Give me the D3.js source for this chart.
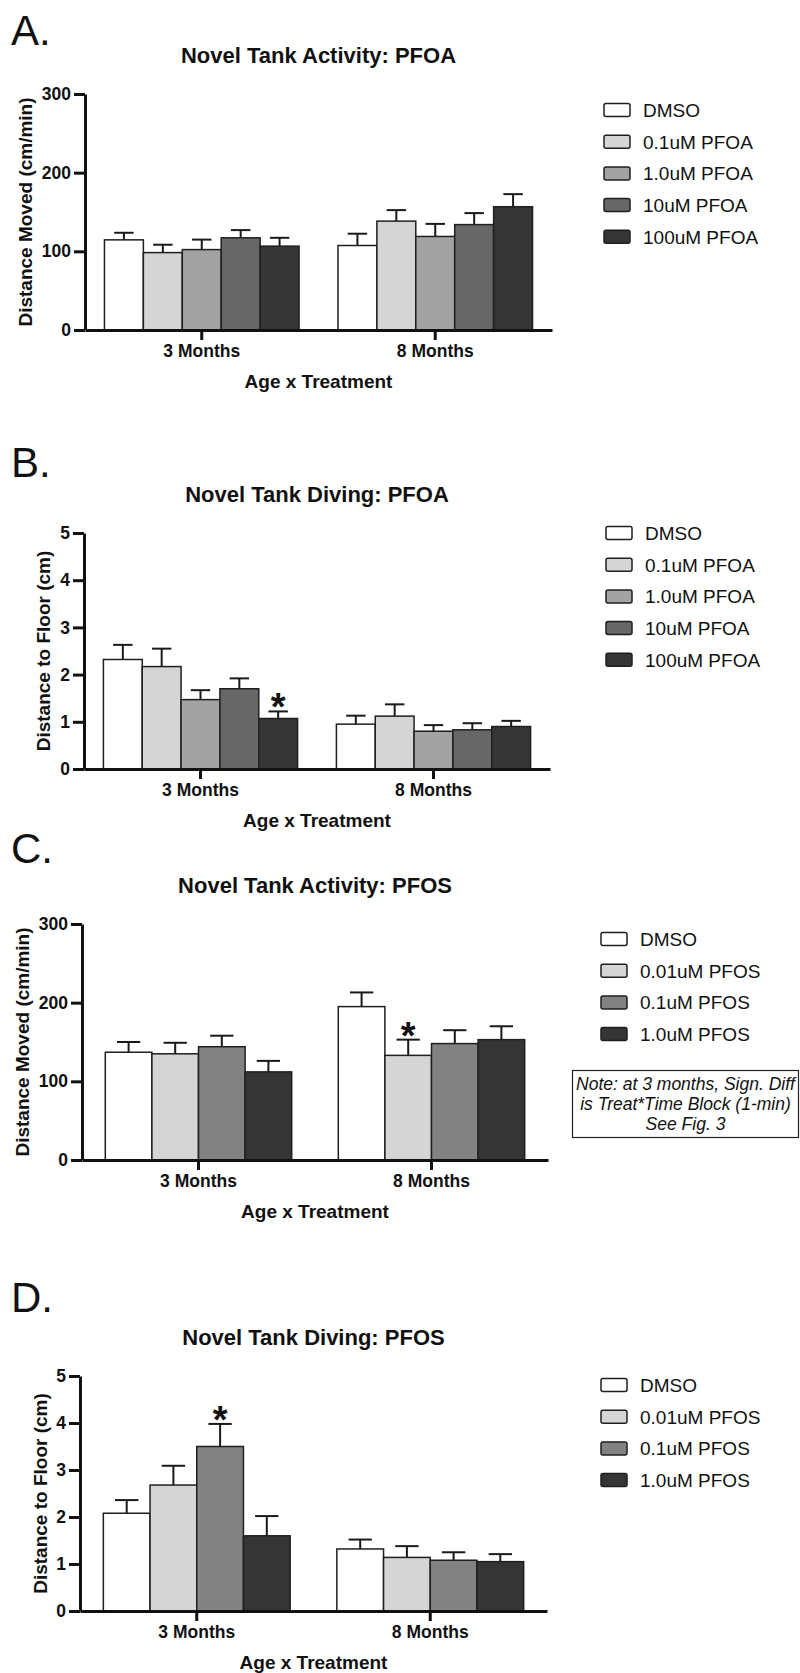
<!DOCTYPE html>
<head>
  <meta charset="utf-8">
  <script src="https://d3js.org/d3.v7.min.js"></script>
  <style>
    body { margin:0; background:#fff; font-family: "Liberation Sans", Arial, sans-serif; }
    text { fill:#111; }
  </style>
</head>
<body>
<script>
  // --- data ---
  var ages = ["3 Months", "8 Months"];
  var pfoaGroups = ["DMSO", "0.1uM PFOA", "1.0uM PFOA", "10uM PFOA", "100uM PFOA"];
  var pfosGroups = ["DMSO", "0.01uM PFOS", "0.1uM PFOS", "1.0uM PFOS"];
  var pfoaColors = ["#ffffff", "#d5d5d5", "#a3a3a3", "#676767", "#353535"];
  var pfosColors = ["#ffffff", "#d5d5d5", "#828282", "#353535"];
  var activityTicks = [0, 100, 200, 300];
  var divingTicks = [0, 1, 2, 3, 4, 5];

  // rows = age, columns = treatment
  var pfoaActivityMean = [[114.6, 98.4, 102.2, 117.2, 106.6], [107.4, 138.4, 118.9, 134, 156.7]];
  var pfoaActivitySem  = [[9, 10, 12.7, 9.8, 10.6], [15, 14, 16, 14.6, 16]];
  var pfoaDivingMean   = [[2.32, 2.17, 1.47, 1.70, 1.07], [0.95, 1.12, 0.80, 0.83, 0.90]];
  var pfoaDivingSem    = [[0.31, 0.38, 0.20, 0.22, 0.15], [0.18, 0.25, 0.13, 0.14, 0.12]];
  var pfosActivityMean = [[137, 135, 144, 112], [195, 133, 148, 153]];
  var pfosActivitySem  = [[13, 14, 14, 14], [18, 20, 17, 17]];
  var pfosDivingMean   = [[2.08, 2.68, 3.50, 1.60], [1.32, 1.14, 1.08, 1.05]];
  var pfosDivingSem    = [[0.28, 0.41, 0.48, 0.42], [0.20, 0.24, 0.17, 0.16]];

  // significant bars: [age index, treatment index]
  var pfoaDivingStars = [[0, 4]];
  var pfosActivityStars = [[1, 1]];
  var pfosDivingStars = [[0, 2]];

  var noteLines = ["Note: at 3 months, Sign. Diff", "is Treat*Time Block (1-min)", "See Fig. 3"];

  var svg = d3.select("body").append("svg")
    .attr("width", 800)
    .attr("height", 1673);

  var panels = [
    { letter: "A.", letterY: 45, title: "Novel Tank Activity: PFOA", yLabel: "Distance Moved (cm/min)",
      groups: pfoaGroups, colors: pfoaColors, mean: pfoaActivityMean, sem: pfoaActivitySem, ticks: activityTicks, stars: [],
      left: 85, right: 552, top: 94, bottom: 330, yLabelX: 25, legX: 604, legY: 110 },
    { letter: "B.", letterY: 477, title: "Novel Tank Diving: PFOA", yLabel: "Distance to Floor (cm)",
      groups: pfoaGroups, colors: pfoaColors, mean: pfoaDivingMean, sem: pfoaDivingSem, ticks: divingTicks, stars: pfoaDivingStars,
      left: 84, right: 550, top: 533, bottom: 769, yLabelX: 43, legX: 606, legY: 533 },
    { letter: "C.", letterY: 863, title: "Novel Tank Activity: PFOS", yLabel: "Distance Moved (cm/min)",
      groups: pfosGroups, colors: pfosColors, mean: pfosActivityMean, sem: pfosActivitySem, ticks: activityTicks, stars: pfosActivityStars,
      left: 82, right: 548, top: 924, bottom: 1160, yLabelX: 22, legX: 601, legY: 939 },
    { letter: "D.", letterY: 1312, title: "Novel Tank Diving: PFOS", yLabel: "Distance to Floor (cm)",
      groups: pfosGroups, colors: pfosColors, mean: pfosDivingMean, sem: pfosDivingSem, ticks: divingTicks, stars: pfosDivingStars,
      left: 80, right: 547, top: 1376, bottom: 1611, yLabelX: 40, legX: 601, legY: 1385 }
  ];

  panels.forEach(drawPanel);

  // note box next to panel C
  var note = svg.append("g");
  note.append("rect")
    .attr("x", 572.5).attr("y", 1070.5)
    .attr("width", 226).attr("height", 67)
    .attr("fill", "none").attr("stroke", "#222").attr("stroke-width", 1.2);
  note.selectAll(".note")
    .data(noteLines)
    .enter().append("text")
    .attr("class", "note")
    .attr("x", 685.5)
    .attr("y", function(d, i) { return 1090 + i * 20; })
    .attr("text-anchor", "middle")
    .style("font-size", "17.5px")
    .style("font-style", "italic")
    .text(function(d) { return d; });

  function drawPanel(p) {
    var g = svg.append("g");

    var x0 = d3.scaleBand().domain(ages).range([p.left, p.right]);
    var x1 = d3.scaleBand().domain(p.groups).range([0, x0.bandwidth()]).paddingOuter(0.5);
    var y = d3.scaleLinear().domain([0, d3.max(p.ticks)]).range([p.bottom, p.top]);
    var color = d3.scaleOrdinal().domain(p.groups).range(p.colors);
    var bw = x1.bandwidth();

    g.append("text")
      .text(p.letter)
      .attr("x", 11).attr("y", p.letterY)
      .style("font-size", "42px");

    g.append("text")
      .text(p.title)
      .attr("x", (p.left + p.right) / 2).attr("y", p.top - 31)
      .attr("text-anchor", "middle")
      .style("font-size", "22px")
      .style("font-weight", "bold");

    var rows = [];
    ages.forEach(function(a, i) {
      p.groups.forEach(function(s, j) {
        rows.push({ age: a, group: s, mean: p.mean[i][j], sem: p.sem[i][j] });
      });
    });

    var bar = g.selectAll(".bar")
      .data(rows)
      .enter().append("g")
      .attr("class", "bar")
      .attr("transform", function(d) { return "translate(" + (x0(d.age) + x1(d.group)) + ",0)"; });

    bar.append("line")
      .attr("x1", bw / 2).attr("x2", bw / 2)
      .attr("y1", function(d) { return y(d.mean); })
      .attr("y2", function(d) { return y(d.mean + d.sem); })
      .attr("stroke", "#1a1a1a").attr("stroke-width", 2);
    bar.append("line")
      .attr("x1", bw / 4).attr("x2", bw * 3 / 4)
      .attr("y1", function(d) { return y(d.mean + d.sem); })
      .attr("y2", function(d) { return y(d.mean + d.sem); })
      .attr("stroke", "#1a1a1a").attr("stroke-width", 2);
    bar.append("rect")
      .attr("y", function(d) { return y(d.mean); })
      .attr("width", bw)
      .attr("height", function(d) { return p.bottom - y(d.mean); })
      .attr("fill", function(d) { return color(d.group); })
      .attr("stroke", "#1f1f1f").attr("stroke-width", 1.5);

    g.selectAll(".star")
      .data(p.stars)
      .enter().append("text")
      .attr("class", "star")
      .attr("x", function(d) { return x0(ages[d[0]]) + x1(p.groups[d[1]]) + bw / 2; })
      .attr("y", function(d) { return y(p.mean[d[0]][d[1]] + p.sem[d[0]][d[1]]) + 9; })
      .attr("text-anchor", "middle")
      .style("font-size", "38px")
      .style("font-weight", "bold")
      .text("*");

    var yAxis = g.append("g")
      .attr("transform", "translate(" + p.left + ",0)")
      .call(d3.axisLeft(y).tickValues(p.ticks).tickFormat(d3.format("d"))
        .tickSize(11).tickSizeOuter(0).tickPadding(3));
    var xAxis = g.append("g")
      .attr("transform", "translate(0," + p.bottom + ")")
      .call(d3.axisBottom(x0).tickSize(10).tickSizeOuter(0).tickPadding(5));

    [yAxis, xAxis].forEach(function(ax) {
      ax.attr("font-family", null).attr("font-size", null);
      ax.select(".domain").attr("stroke", "#111").attr("stroke-width", 3);
      ax.selectAll(".tick line").attr("stroke", "#111").attr("stroke-width", 3);
      ax.selectAll(".tick text")
        .attr("fill", "#111")
        .style("font-size", "17.5px")
        .style("font-weight", "bold");
    });

    g.append("text")
      .text("Age x Treatment")
      .attr("x", (p.left + p.right) / 2).attr("y", p.bottom + 58)
      .attr("text-anchor", "middle")
      .style("font-size", "19px")
      .style("font-weight", "bold");

    g.append("text")
      .text(p.yLabel)
      .attr("transform", "translate(" + p.yLabelX + "," + ((p.top + p.bottom) / 2) + ") rotate(-90)")
      .attr("dy", "0.35em")
      .attr("text-anchor", "middle")
      .style("font-size", "19px")
      .style("font-weight", "bold");

    var leg = g.selectAll(".leg")
      .data(p.groups)
      .enter().append("g")
      .attr("class", "leg")
      .attr("transform", function(d, i) { return "translate(" + p.legX + "," + (p.legY + i * 31.7) + ")"; });
    leg.append("rect")
      .attr("x", 0).attr("y", -6.5)
      .attr("width", 26).attr("height", 13)
      .attr("rx", 2)
      .attr("fill", function(d) { return color(d); })
      .attr("stroke", "#1f1f1f").attr("stroke-width", 1.5);
    leg.append("text")
      .attr("x", 39).attr("y", 6.8)
      .style("font-size", "19px")
      .text(function(d) { return d; });
  }
</script>
</body>
